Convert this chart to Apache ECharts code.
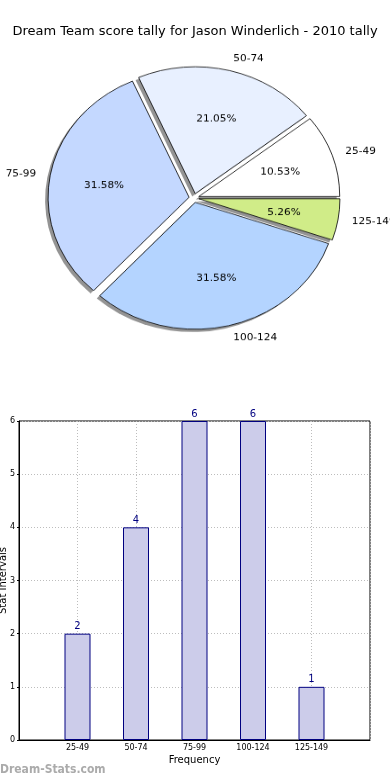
<!DOCTYPE html>
<html>
<head>
<meta charset="utf-8">
<script src="https://cdn.jsdelivr.net/npm/echarts@6/dist/echarts.min.js"></script>
<style>
html,body{margin:0;padding:0;background:#fff;}
#main{position:absolute;left:0;top:0;width:390px;height:780px;}
#pie{position:absolute;left:0;top:0;width:390px;height:390px;transform:scaleY(0.9);transform-origin:194px 198px;}
</style>
</head>
<body>
<div id="main"></div>
<div id="pie"></div>
<script>
// ---- data ----
const titleText = 'Dream Team score tally for Jason Winderlich - 2010 tally';
const categories = ['25-49', '50-74', '75-99', '100-124', '125-149'];
const counts = [2, 4, 6, 6, 1];
const yTickValues = [0, 1, 2, 3, 4, 5, 6];
const xAxisName = 'Frequency';
const yAxisName = 'Stat Intervals';
const watermark = 'Dream-Stats.com';

// ---- styles ----
const pieColors = ['#ffffff', '#e8f0ff', '#c4d8ff', '#b4d4ff', '#d0ec88'];
const FONT = 'DejaVu Sans';

// bottom chart: title, bars, watermark
const main = echarts.init(document.getElementById('main'), null, {renderer: 'canvas'});
const axisCats = [''].concat(categories, ['']);
const barData = ['-'].concat(counts, ['-']);
main.setOption({
  animation: false,
  backgroundColor: '#fff',
  title: {
    text: titleText, left: 'center', top: 20,
    textStyle: {fontFamily: FONT, fontSize: 13, fontWeight: 'normal', color: '#000'}
  },
  graphic: [{
    type: 'text', left: 0, top: 764,
    style: {text: watermark, fontFamily: '"DejaVu Sans Condensed", "DejaVu Sans"', fontSize: 12, fontWeight: 'bold', fill: '#ababab'}
  }],
  grid: {left: 19, right: 20, top: 421, bottom: 40, show: true, borderColor: '#000', borderWidth: 1,
    containLabel: false, outerBoundsMode: 'none'},
  xAxis: {
    type: 'category', data: axisCats, boundaryGap: false,
    name: xAxisName, nameLocation: 'middle', nameGap: 15, nameMoveOverlap: false,
    nameTextStyle: {fontFamily: FONT, fontSize: 10, color: '#000'},
    axisLine: {lineStyle: {color: '#000', width: 1}},
    axisTick: {show: false},
    axisLabel: {fontFamily: FONT, fontSize: 8, color: '#000', margin: 4, interval: 0},
    splitLine: {show: true, interval: 0, lineStyle: {color: '#bdbdbd', type: [1, 2], width: 1}}
  },
  yAxis: {
    type: 'value', min: 0, max: 6, interval: 1,
    name: yAxisName, nameLocation: 'middle', nameGap: 11, nameMoveOverlap: false,
    nameTextStyle: {fontFamily: FONT, fontSize: 10, color: '#000'},
    axisLine: {show: true, lineStyle: {color: '#000', width: 1}},
    axisTick: {show: true, inside: false, length: 2, lineStyle: {color: '#000'}},
    axisLabel: {fontFamily: FONT, fontSize: 8, color: '#000', margin: 4,
      formatter: function (v) { return yTickValues.indexOf(v) >= 0 ? String(v) : ''; }},
    splitLine: {show: true, lineStyle: {color: '#bdbdbd', type: [1, 2], width: 1}}
  },
  series: [{
    type: 'bar', data: barData, barWidth: 26,
    itemStyle: {color: '#ccccea', borderColor: '#000080', borderWidth: 1},
    label: {show: true, position: 'top', distance: 2, color: '#000080', fontFamily: FONT, fontSize: 10},
    z: 1
  }]
});

// pie (overlay, vertically squashed like the reference ellipse)
const pie = echarts.init(document.getElementById('pie'), null, {renderer: 'canvas'});
const pieData = categories.map(function (c, i) {
  return {name: c, value: counts[i], selected: true, itemStyle: {color: pieColors[i]}};
});
const plainData = categories.map(function (c, i) {
  return {name: c, value: counts[i], selected: true};
});
const R = 141;
const common = {
  type: 'pie', startAngle: 0, clockwise: false, avoidLabelOverlap: false,
  selectedMode: 'multiple', selectedOffset: 5, emphasis: {disabled: true}, silent: true
};
pie.setOption({
  animation: false,
  series: [
    // drop shadow (offset copy)
    Object.assign({}, common, {
      center: [191, 201], radius: [0, R], data: plainData, z: 1,
      itemStyle: {color: 'rgba(0,0,0,0.42)', borderWidth: 0},
      select: {itemStyle: {color: 'rgba(0,0,0,0.42)', borderWidth: 0}},
      label: {show: false}, labelLine: {show: false}
    }),
    // slices with category labels
    Object.assign({}, common, {
      center: [194, 198], radius: [0, R], data: pieData, z: 2,
      itemStyle: {borderColor: '#000', borderWidth: 0.8},
      select: {itemStyle: {borderColor: '#000', borderWidth: 0.8}},
      label: {show: true, position: 'outside', formatter: '{b}', distanceToLabelLine: 0,
        fontFamily: FONT, fontSize: 10.5, color: '#000'},
      labelLine: {show: false, length: 14, length2: 0}
    }),
    // percentage labels
    Object.assign({}, common, {
      center: [194, 199], radius: [R * 0.18, R], data: plainData, z: 3,
      itemStyle: {color: 'rgba(0,0,0,0)', borderWidth: 0},
      select: {itemStyle: {color: 'rgba(0,0,0,0)', borderWidth: 0}},
      label: {show: true, position: 'inside', formatter: '{d}%', fontFamily: FONT, fontSize: 10.5, color: '#000'},
      labelLine: {show: false}
    })
  ]
});
</script>
</body>
</html>
